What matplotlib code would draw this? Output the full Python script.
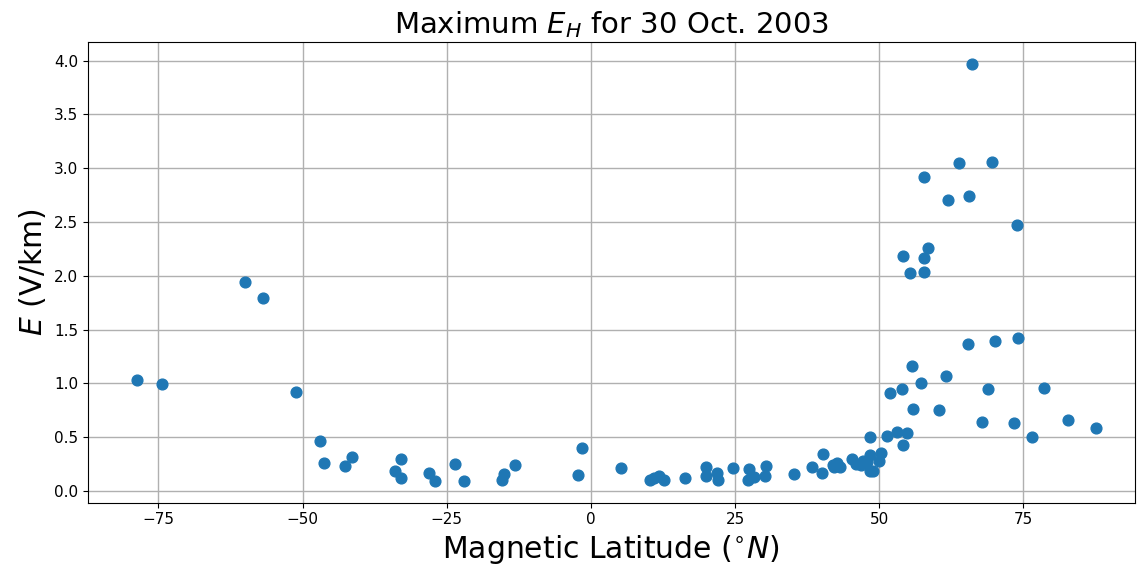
import numpy as np
import matplotlib.pyplot as plt

# magnetic latitude (deg N) and peak horizontal E-field (V/km) per station
mlat = [-78.7, -74.3, -59.9, -56.8, -51.2, -47.0, -46.3, -42.7, -41.4,
        -32.9, -33.9, -32.9, -28.0, -27.0, -23.6, -22.0,
        -15.4, -15.0, -13.1, -2.3, -1.6, 5.3, 10.2, 11.8, 12.6, 11.0,
        16.4, 20.0, 19.9, 21.8, 22.0, 24.6, 27.4, 27.3, 28.2, 30.3, 30.2,
        35.2, 38.3, 40.2, 40.0, 42.0, 42.6, 43.2, 42.2,
        45.2, 46.0, 47.1, 46.9, 47.9, 48.4, 48.4, 50.3, 49.9, 48.4, 48.9,
        51.4, 53.0, 54.8, 54.1, 51.9, 54.0, 55.6, 57.3, 55.8, 60.3, 61.5,
        65.4, 70.0, 74.0, 68.9, 78.6, 67.9, 73.3, 82.8, 87.6, 76.5,
        66.0, 63.8, 69.6, 57.8, 62.0, 65.5, 73.8, 58.5, 54.1, 57.8, 55.4, 57.8]
e_max = [1.03, 0.99, 1.94, 1.79, 0.92, 0.46, 0.26, 0.23, 0.32,
         0.30, 0.19, 0.12, 0.17, 0.09, 0.25, 0.09,
         0.10, 0.16, 0.24, 0.15, 0.40, 0.21, 0.10, 0.14, 0.10, 0.12,
         0.12, 0.22, 0.14, 0.17, 0.10, 0.21, 0.20, 0.10, 0.13, 0.23, 0.14,
         0.16, 0.22, 0.34, 0.17, 0.24, 0.26, 0.22, 0.22,
         0.30, 0.25, 0.28, 0.24, 0.27, 0.50, 0.33, 0.35, 0.28, 0.19, 0.19,
         0.51, 0.55, 0.54, 0.43, 0.91, 0.95, 1.16, 1.00, 0.76, 0.75, 1.07,
         1.37, 1.39, 1.42, 0.95, 0.96, 0.64, 0.63, 0.66, 0.59, 0.50,
         3.97, 3.05, 3.06, 2.92, 2.70, 2.74, 2.47, 2.26, 2.18, 2.17, 2.03, 2.04]

fig = plt.figure(figsize=(11.37, 5.71), dpi=100)
ax = fig.add_axes([0.0774, 0.1196, 0.9206, 0.8068])
ax.scatter(mlat, e_max, s=60, color='#1f77b4', zorder=3)
ax.set_xlim(-87.2, 94.3)
ax.set_ylim(-0.109, 4.173)
ax.set_xticks([-75, -50, -25, 0, 25, 50, 75])
ax.set_yticks(np.arange(0, 4.01, 0.5))
ax.tick_params(labelsize=11)
ax.grid(True, color='#b0b0b0', linewidth=1.0)
ax.set_axisbelow(True)
ax.set_title('Maximum $E_H$ for 30 Oct. 2003', fontsize=21)
ax.set_xlabel(r'Magnetic Latitude ($^{\circ}N$)', fontsize=21.5)
ax.set_ylabel(r'$E$ (V/km)', fontsize=21.5)

fig.savefig('out.png', dpi=100)
